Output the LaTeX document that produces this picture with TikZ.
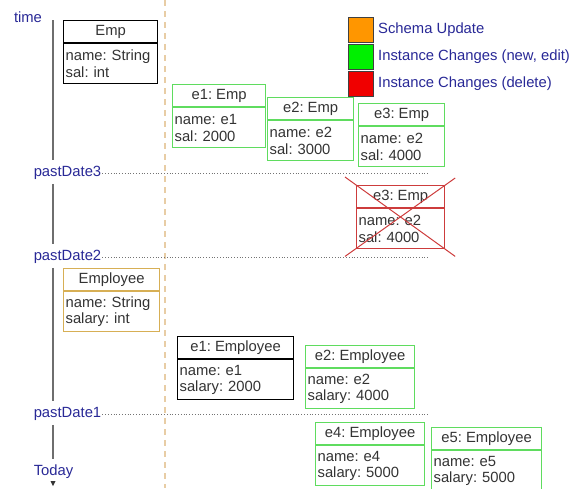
\documentclass[tikz,border=0pt]{standalone}
\usepackage{fontspec}
\setmainfont{Liberation Sans}
\usetikzlibrary{arrows.meta, positioning, calc}
\frenchspacing

\definecolor{labelblue}{RGB}{40,40,150}
\definecolor{axisgray}{RGB}{110,110,110}
\definecolor{septan}{RGB}{232,205,165}
\definecolor{boxgreen}{RGB}{95,220,95}
\definecolor{boxgold}{RGB}{215,175,85}
\definecolor{boxred}{RGB}{205,60,60}
\definecolor{schemaorange}{RGB}{255,150,0}
\definecolor{instgreen}{RGB}{0,240,0}
\definecolor{delred}{RGB}{240,0,0}

\begin{document}
\begin{tikzpicture}[
                x=1pt, y=-1pt,
                font=\fontsize{14.8}{16.5}\selectfont,
                >=Stealth,
                hdr/.style={draw=#1, line width=1.2pt, minimum height=22, inner sep=1pt, anchor=north west, text=black!80},
                body/.style={draw=#1, line width=1.2pt, minimum height=40, inner xsep=2pt, inner ysep=1pt, align=left, text=black!80},
                tlabel/.style={text=labelblue, inner sep=1pt},
                leglabel/.style={text=labelblue, inner sep=1pt, anchor=west},
                legbox/.style={draw=black!75, line width=1pt, minimum size=25, inner sep=0pt, anchor=north west},
                axisline/.style={line width=2pt, axisgray, shorten <=3, shorten >=5},
                dotline/.style={black!55, dotted, line width=0.8pt},
                sepline/.style={septan, line width=1.5pt, dash pattern=on 6pt off 5pt},
                cross/.style={boxred, line width=1pt}
            ]
                \useasboundingbox (0,0) rectangle (579,488);
                \coordinate (axis) at (53,0);
                \coordinate (dotend) at (430,0);
                \draw[sepline] (165,0) -- (165,488);
                % time axis
                \node[tlabel] (time) at (28,17) {time};
                \node[tlabel] (pd3) at (67.5,173) {pastDate3};
                \node[tlabel] (pd2) at (67.5,257) {pastDate2};
                \node[tlabel] (pd1) at (67.5,414) {pastDate1};
                \node[tlabel] (today) at (53.5,472) {Today};
                \draw[axisline] (time.east -| axis) -- (pd3.north -| axis);
                \draw[axisline] (pd3.south -| axis) -- (pd2.north -| axis);
                \draw[axisline] (pd2.south -| axis) -- (pd1.north -| axis);
                \draw[axisline] (pd1.south -| axis) -- (today.north -| axis);
                \fill[black!80] (today.south -| axis) ++(-2.5,1) -- ++(5,0) -- ++(-2.5,5) -- cycle;
                \draw[dotline] (pd3.east) -- (pd3.east -| dotend);
                \draw[dotline] (pd2.east) -- (pd2.east -| dotend);
                \draw[dotline] (pd1.east) -- (pd1.east -| dotend);
                % legend
                \node[legbox, fill=schemaorange] (lgs) at (348,17) {};
                \node[legbox, fill=instgreen] (lgn) at (348,44) {};
                \node[legbox, fill=delred] (lgd) at (348,71) {};
                \node[leglabel, right=3pt of lgs] {Schema Update};
                \node[leglabel, right=3pt of lgn] {Instance Changes (new, edit)};
                \node[leglabel, right=3pt of lgd] {Instance Changes (delete)};
                % schema Emp and its instances
                \node[hdr=black, minimum width=94] (emph) at (63,20) {Emp};
                \node[body=black, text width=90, below=0pt of emph] (empb) {name: String\\sal: int};
                \node[hdr=boxgreen, minimum width=93] (e1eh) at (172,84) {e1: Emp};
                \node[body=boxgreen, text width=89, below=0pt of e1eh] (e1eb) {name: e1\\sal: 2000};
                \node[hdr=boxgreen, minimum width=86] (e2eh) at (267,97) {e2: Emp};
                \node[body=boxgreen, text width=82, below=0pt of e2eh] (e2eb) {name: e2\\sal: 3000};
                \node[hdr=boxgreen, minimum width=86] (e3eh) at (358,103) {e3: Emp};
                \node[body=boxgreen, text width=82, below=0pt of e3eh] (e3eb) {name: e2\\sal: 4000};
                % deleted instance
                \node[hdr=boxred, minimum width=88] (e3dh) at (356,185) {e3: Emp};
                \node[body=boxred, text width=84, below=0pt of e3dh] (e3db) {name: e2\\sal: 4000};
                \draw[cross] ([shift={(-11,-8)}]e3dh.north west) -- ([shift={(10,7)}]e3db.south east);
                \draw[cross] ([shift={(10,-7)}]e3dh.north east) -- ([shift={(-11,7)}]e3db.south west);
                % schema Employee and its instances
                \node[hdr=boxgold, minimum width=96] (emplh) at (63,268) {Employee};
                \node[body=boxgold, text width=92, below=0pt of emplh] (emplb) {name: String\\salary: int};
                \node[hdr=black, minimum width=116] (e1nh) at (177,336) {e1: Employee};
                \node[body=black, text width=112, below=0pt of e1nh] (e1nb) {name: e1\\salary: 2000};
                \node[hdr=boxgreen, minimum width=109] (e2nh) at (305,345) {e2: Employee};
                \node[body=boxgreen, text width=105, below=0pt of e2nh] (e2nb) {name: e2\\salary: 4000};
                \node[hdr=boxgreen, minimum width=109] (e4nh) at (315,422) {e4: Employee};
                \node[body=boxgreen, text width=105, below=0pt of e4nh] (e4nb) {name: e4\\salary: 5000};
                \node[hdr=boxgreen, minimum width=110] (e5nh) at (431,427) {e5: Employee};
                \node[body=boxgreen, text width=106, below=0pt of e5nh] (e5nb) {name: e5\\salary: 5000};
            \end{tikzpicture}
\end{document}
